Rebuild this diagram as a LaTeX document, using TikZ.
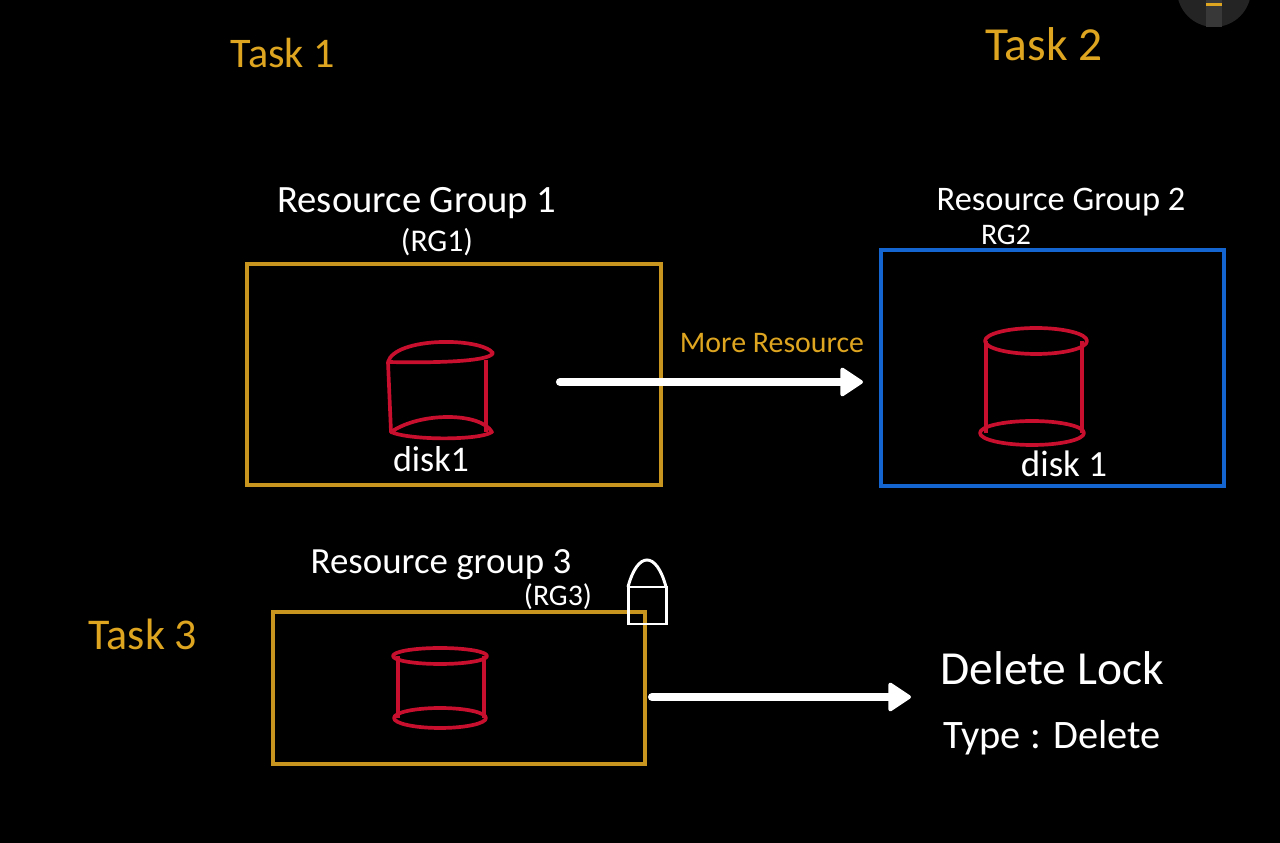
\documentclass[tikz,border=0pt]{standalone}
\usepackage{fontspec}
\usepackage{tikz}
\usetikzlibrary{arrows.meta}
\setmainfont{Carlito}
\definecolor{boxgold}{HTML}{C8961E}
\definecolor{inkgold}{HTML}{DDA520}
\definecolor{boxblue}{HTML}{1565D0}
\definecolor{diskred}{HTML}{C8102E}
\tikzset{
  hand/.style={text=white, inner sep=0pt, font=\fontsize{#1}{#1}\selectfont},
  handgold/.style={text=inkgold, inner sep=0pt, font=\fontsize{#1}{#1}\selectfont},
  groupbox/.style={draw=#1, line width=1.9pt, outer sep=0pt, inner sep=0pt},
  disk/.style={draw=diskred, line width=2.1pt, line join=round},
  moveline/.style={draw=white, line width=4.6pt, line cap=round, -{Triangle[length=4.8mm,width=6.2mm,line width=2pt,round]}}
}
\begin{document}
\begin{tikzpicture}
\useasboundingbox[fill=black] (0,0) rectangle (25.6,16.86);

% pen button, top right
\fill[black!86!white] (24.28,17.06) circle (0.74);
\fill[black!78!white] (24.12,16.32) rectangle (24.44,16.86);
\fill[inkgold] (24.12,16.73) rectangle (24.44,16.79);

\node[handgold=24] (taskone) at (5.66,15.8) {Task 1};
\node[handgold=27] (tasktwo) at (20.88,15.98) {Task 2};
\node[handgold=25] (taskthree) at (2.86,4.18) {Task 3};

\node[groupbox=boxgold, minimum width=8.28cm, minimum height=4.42cm] (groupone) at (9.08,9.37) {};
\node[groupbox=boxblue, minimum width=6.86cm, minimum height=4.72cm] (grouptwo) at (21.05,9.5) {};
\node[groupbox=boxgold, minimum width=7.44cm, minimum height=3.04cm] (groupthree) at (9.18,3.1) {};

\node[hand=22] (nameone) at (8.34,12.8) {Resource Group 1};
\node[hand=18] (shortone) at (8.74,12.02) {(RG1)};
\node[hand=19.6] (nametwo) at (21.22,12.82) {Resource Group 2};
\node[hand=17] (shorttwo) at (20.12,12.16) {RG2};
\node[hand=21] (namethree) at (8.82,5.56) {Resource group 3};
\node[hand=17] (shortthree) at (11.16,4.93) {(RG3)};

% disk in group 1
\draw[disk] (7.76,9.62) .. controls (7.9,10.12) and (9.6,10.12) .. (9.86,9.8) .. controls (9.8,9.62) and (8.6,9.6) .. cycle;
\draw[disk] (7.76,9.62) -- (7.82,8.22);
\draw[disk] (9.72,9.66) -- (9.72,8.22);
\draw[disk] (7.82,8.22) .. controls (8.4,8.62) and (9.6,8.62) .. (9.84,8.22) .. controls (9.6,8.05) and (8.2,8.05) .. cycle;
\node[hand=20.5] (diskone) at (8.62,7.68) {disk1};

% disk in group 2
\draw[disk] (20.72,10.04) ellipse (1.02 and 0.26);
\draw[disk] (20.64,8.2) ellipse (1.04 and 0.24);
\draw[disk] (19.72,10.04) -- (19.72,8.2);
\draw[disk] (21.64,10.04) -- (21.64,8.2);
\node[hand=21] (disktwo) at (21.28,7.58) {disk 1};

% disk in group 3
\draw[disk] (8.8,3.74) ellipse (0.94 and 0.16);
\draw[disk] (8.8,2.5) ellipse (0.92 and 0.2);
\draw[disk] (7.96,3.74) -- (7.96,2.5);
\draw[disk] (9.68,3.74) -- (9.68,2.5);

% lock
\draw[white, line width=1.7pt] (12.56,5.12) rectangle (13.32,4.38);
\draw[white, line width=1.7pt] (12.56,5.12) .. controls (12.75,5.84) and (13.13,5.84) .. (13.32,5.12);

\coordinate (movestart) at (11.2,9.22);
\coordinate (moveend) at (17.26,9.22);
\coordinate (lockstart) at (13.04,2.92);
\coordinate (lockend) at (18.22,2.92);
\draw[moveline] (movestart) -- (moveend);
\draw[moveline] (lockstart) -- (lockend);

\node[handgold=17] (moreres) at (15.44,10.0) {More Resource};
\node[hand=27] (locktitle) at (21.04,3.5) {Delete Lock};
\node[hand=23] (locktype) at (21.04,2.1) {Type : Delete};
\end{tikzpicture}
\end{document}
